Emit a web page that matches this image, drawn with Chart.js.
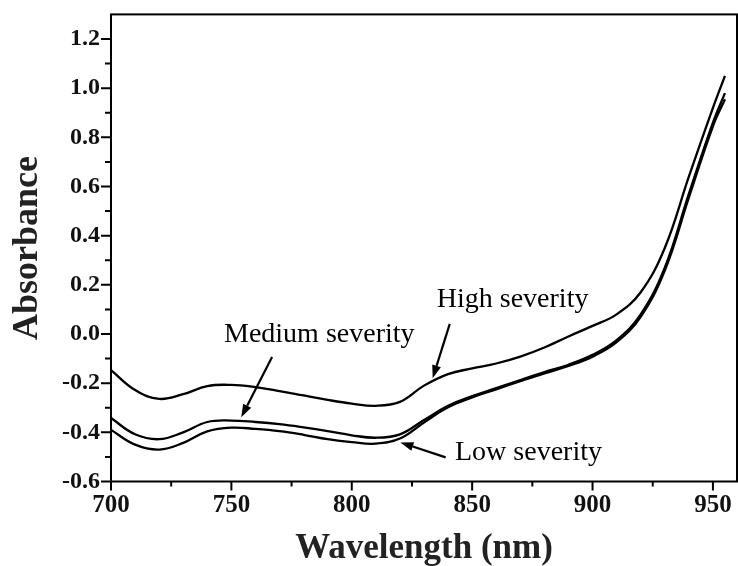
<!DOCTYPE html>
<html>
<head>
<meta charset="utf-8">
<script src="https://cdn.jsdelivr.net/npm/chart.js@4"></script>
<style>
  html, body { margin: 0; padding: 0; background: #fff; }
  #wrap { width: 738px; height: 566px; position: relative; }
</style>
</head>
<body>
<div id="wrap"><canvas id="absChart"></canvas></div>
<script>
// wavelength grid (nm) and absorbance
const wavelengths = [700, 710, 720, 730, 740, 750, 760, 770, 780, 790, 800, 810, 820,
  830, 840, 850, 860, 870, 880, 890, 900, 910, 920, 930, 940, 950, 955];

const highSeverity = [-0.147, -0.228, -0.264, -0.245, -0.212, -0.207, -0.216, -0.232, -0.250,
  -0.268, -0.283, -0.292, -0.276, -0.210, -0.163, -0.140, -0.120, -0.092, -0.055, -0.010,
  0.033, 0.080, 0.170, 0.350, 0.640, 0.920, 1.050];

const mediumSeverity = [-0.342, -0.408, -0.428, -0.400, -0.358, -0.352, -0.358, -0.367, -0.380,
  -0.395, -0.412, -0.422, -0.408, -0.350, -0.292, -0.253, -0.220, -0.187, -0.155, -0.125,
  -0.085, -0.025, 0.080, 0.270, 0.570, 0.860, 0.980];

const lowSeverity = [-0.390, -0.450, -0.470, -0.443, -0.396, -0.381, -0.386, -0.395, -0.410,
  -0.428, -0.440, -0.446, -0.425, -0.360, -0.298, -0.258, -0.225, -0.192, -0.160, -0.130,
  -0.092, -0.033, 0.070, 0.258, 0.555, 0.845, 0.955];

// axis ticks
const xMajorTicks = [700, 750, 800, 850, 900, 950];
const xMinorTicks = [725, 775, 825, 875, 925];
const yMajorTicks = [-0.6, -0.4, -0.2, 0.0, 0.2, 0.4, 0.6, 0.8, 1.0, 1.2];
const yMinorTicks = [-0.5, -0.3, -0.1, 0.1, 0.3, 0.5, 0.7, 0.9, 1.1];

const toPoints = vals => wavelengths.map((w, i) => ({ x: w, y: vals[i] }));

// labels with arrows, in data units
const notes = [
  { text: 'High severity', x: 866.8, y: 0.139, from: [840.7, 0.041], to: [833.6, -0.180] },
  { text: 'Medium severity', x: 786.5, y: -0.004, from: [766.9, -0.094], to: [754.1, -0.339] },
  { text: 'Low severity', x: 873.4, y: -0.482, from: [839.0, -0.502], to: [820.2, -0.441] }
];

const framePlugin = {
  id: 'frame',
  afterDraw(chart) {
    const { ctx, chartArea: a } = chart;
    const xs = chart.scales.x, ys = chart.scales.y;
    ctx.save();
    ctx.strokeStyle = '#000';
    ctx.lineWidth = 2;
    ctx.strokeRect(a.left, a.top, a.right - a.left, a.bottom - a.top);

    // tick marks, outside the frame
    ctx.beginPath();
    xMajorTicks.forEach(v => { const p = xs.getPixelForValue(v); ctx.moveTo(p, a.bottom); ctx.lineTo(p, a.bottom + 9); });
    xMinorTicks.forEach(v => { const p = xs.getPixelForValue(v); ctx.moveTo(p, a.bottom); ctx.lineTo(p, a.bottom + 5); });
    yMajorTicks.forEach(v => { const p = ys.getPixelForValue(v); ctx.moveTo(a.left, p); ctx.lineTo(a.left - 10, p); });
    yMinorTicks.forEach(v => { const p = ys.getPixelForValue(v); ctx.moveTo(a.left, p); ctx.lineTo(a.left - 6, p); });
    ctx.stroke();

    // annotations
    ctx.fillStyle = '#000';
    ctx.font = '28px "Liberation Serif"';
    ctx.textAlign = 'center';
    ctx.textBaseline = 'middle';
    notes.forEach(n => {
      ctx.fillText(n.text, xs.getPixelForValue(n.x), ys.getPixelForValue(n.y));
      const x1 = xs.getPixelForValue(n.from[0]), y1 = ys.getPixelForValue(n.from[1]);
      const x2 = xs.getPixelForValue(n.to[0]), y2 = ys.getPixelForValue(n.to[1]);
      const ang = Math.atan2(y2 - y1, x2 - x1);
      const head = 13, half = 4.5;
      const bx = x2 - head * Math.cos(ang), by = y2 - head * Math.sin(ang);
      ctx.lineWidth = 2.2;
      ctx.beginPath();
      ctx.moveTo(x1, y1);
      ctx.lineTo(bx, by);
      ctx.stroke();
      ctx.beginPath();
      ctx.moveTo(x2, y2);
      ctx.lineTo(bx + half * Math.sin(ang), by - half * Math.cos(ang));
      ctx.lineTo(bx - half * Math.sin(ang), by + half * Math.cos(ang));
      ctx.closePath();
      ctx.fill();
    });
    ctx.restore();
  }
};

const lineStyle = {
  borderColor: '#000',
  borderWidth: 2.3,
  pointRadius: 0,
  fill: false,
  tension: 0.4
};

new Chart(document.getElementById('absChart'), {
  type: 'line',
  data: {
    datasets: [
      { label: 'High severity', data: toPoints(highSeverity), ...lineStyle },
      { label: 'Medium severity', data: toPoints(mediumSeverity), ...lineStyle },
      { label: 'Low severity', data: toPoints(lowSeverity), ...lineStyle }
    ]
  },
  options: {
    responsive: true,
    maintainAspectRatio: false,
    animation: false,
    layout: { padding: { top: 14, right: 1, left: 0, bottom: 0 } },
    plugins: { legend: { display: false }, tooltip: { enabled: false } },
    scales: {
      x: {
        type: 'linear',
        min: 700,
        max: 960,
        afterBuildTicks: s => { s.ticks = xMajorTicks.map(v => ({ value: v })); },
        // invisible tick marks only hold the gap; the real ones are drawn by the plugin
        grid: { drawOnChartArea: false, drawTicks: true, tickLength: 10, tickColor: 'rgba(0,0,0,0)' },
        border: { display: false },
        ticks: {
          color: '#111',
          padding: 0,
          maxRotation: 0,
          font: { family: 'Liberation Serif', size: 25, weight: 'bold', lineHeight: 1.1 }
        },
        title: {
          display: true,
          text: 'Wavelength (nm)',
          color: '#222',
          padding: { top: 12, bottom: 0 },
          font: { family: 'Liberation Serif', size: 35, weight: 'bold', lineHeight: 1 }
        }
      },
      y: {
        min: -0.6,
        max: 1.3,
        afterBuildTicks: s => { s.ticks = yMajorTicks.map(v => ({ value: v })); },
        grid: { drawOnChartArea: false, drawTicks: true, tickLength: 11, tickColor: 'rgba(0,0,0,0)' },
        border: { display: false },
        ticks: {
          color: '#111',
          padding: 0,
          font: { family: 'Liberation Serif', size: 24, weight: 'bold' },
          callback: v => v.toFixed(1)
        },
        title: {
          display: true,
          text: 'Absorbance',
          color: '#222',
          padding: { top: 10, bottom: 16 },
          font: { family: 'Liberation Serif', size: 36, weight: 'bold', lineHeight: 1 }
        }
      }
    }
  },
  plugins: [framePlugin]
});
</script>
</body>
</html>
